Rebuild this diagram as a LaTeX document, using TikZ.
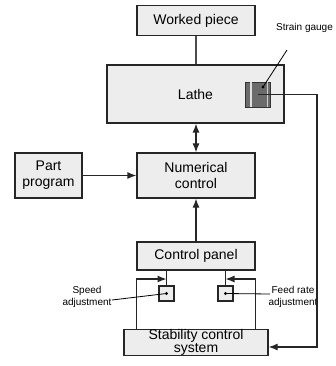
\documentclass[tikz,border=0pt]{standalone}
\usepackage{fontspec}
\setmainfont{Liberation Sans}
\usetikzlibrary{arrows.meta}

\begin{document}
\begin{tikzpicture}[x=1pt,y=-1pt,
  block/.style={draw=black!85,fill=black!7,line width=1.2pt,align=center,inner sep=0pt,font=\fontsize{14}{16}\selectfont},
  knob/.style={draw=black!85,fill=black!7,line width=1.2pt,minimum size=15pt,inner sep=0pt},
  note/.style={align=center,inner sep=0pt,font=\fontsize{10}{12}\selectfont},
  link/.style={draw=black!85,line width=1.2pt},
  tip/.style={-{Latex[length=9pt,width=7pt]}}]
\useasboundingbox (0,0) rectangle (335,366);

\coordinate (gaugepin) at (263,87);
\coordinate (gaugetag) at (287,50);
\coordinate (gaugeout) at (317,347);
\coordinate (sj) at (166.5,279);
\coordinate (fj) at (225.5,279);
\coordinate (speedtag) at (112,300);
\coordinate (feedtag) at (270,294);

\node[block,minimum width=118pt,minimum height=30pt] (piece) at (196,20.5) {Worked piece};
\node[block,minimum width=177pt,minimum height=58pt] (lathe) at (195.5,94) {Lathe};
\node[block,minimum width=118pt,minimum height=45pt] (nc) at (196,175.5) {Numerical\\control};
\node[block,minimum width=67pt,minimum height=45pt] (part) at (48.5,175.5) {Part\\program};
\node[block,minimum width=118pt,minimum height=28pt] (panel) at (196,256) {Control panel};
\node[block,minimum width=144pt,minimum height=26pt,font=\fontsize{14}{12.5}\selectfont] (scs) at (196,342.5) {Stability control\\system};
\node[knob] (speed) at (166.5,293.5) {};
\node[knob] (feed) at (225.5,293.5) {};

\node[draw=black!80,fill=black!58,line width=0.8pt,minimum size=25pt,inner sep=0pt] (gauge) at (258,94.5) {};
\draw[white!75!gray,line width=1.6pt] ([xshift=6pt]gauge.north west) -- ([xshift=6pt]gauge.south west);
\draw[white!60!gray,line width=1pt] ([xshift=-3pt]gauge.north east) -- ([xshift=-3pt]gauge.south east);

\node[note] (gaugetext) at (304.5,28) {Strain gauge};
\node[note] (speedtext) at (87,297) {Speed\\adjustment};
\node[note] (feedtext) at (293,297) {Feed rate\\adjustment};

\draw[black!70,line width=1.2pt] (piece) -- (piece.south |- lathe.north);
\draw[link,{Latex[length=9pt,width=7pt]}-{Latex[length=9pt,width=7pt]}] (nc.north |- lathe.south) -- (nc.north);
\draw[link,tip] (part) -- (nc);
\draw[link,tip] (panel) -- (nc);
\draw[link] (speed.north |- panel.south) -- (speed.north);
\draw[link] (feed.north |- panel.south) -- (feed.north);
\draw[link,tip] (scs.north -| panel.west) |- (sj);
\draw[link,tip] (scs.north -| panel.east) |- (fj);
\draw[link,tip] (gauge.center) -| (gaugeout) -- (scs.east |- gaugeout);

\fill (gaugepin) circle (1.7pt);
\draw[line width=0.8pt] (gaugepin) -- (gaugetag);
\fill (speed.center) circle (1.6pt);
\draw[line width=0.8pt] (speed.center) -- (speedtag);
\fill (feed.center) circle (1.6pt);
\draw[line width=0.8pt] (feed.center) -- (feedtag);
\end{tikzpicture}
\end{document}
